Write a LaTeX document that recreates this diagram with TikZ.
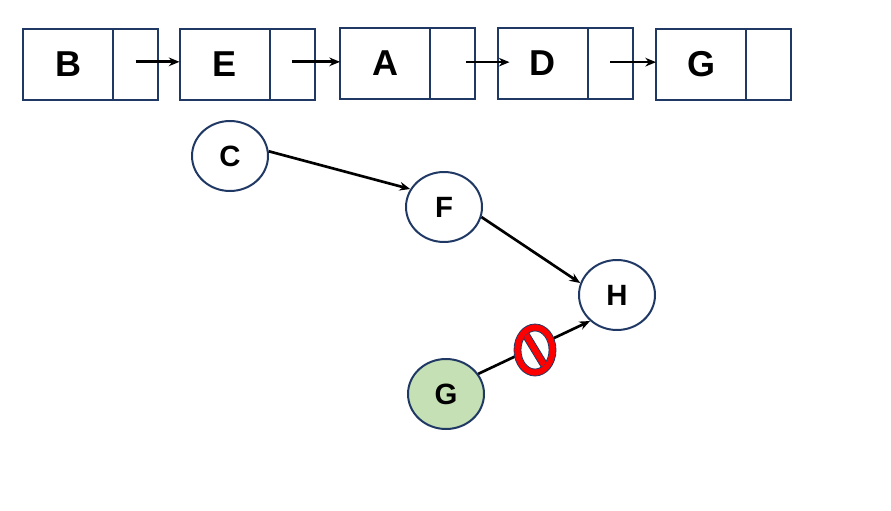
\documentclass[tikz,border=0pt]{standalone}
\usepackage{fontspec}
\setmainfont{Liberation Sans}
\usetikzlibrary{positioning,shapes.geometric,arrows.meta}
\definecolor{navy}{HTML}{203864}
\definecolor{leaf}{HTML}{C5E0B4}
\definecolor{stopred}{HTML}{FF0000}
\tikzset{
  cell/.style={draw=navy,line width=1.5pt,minimum width=67.5pt,minimum height=53.25pt,inner sep=0pt,outer sep=0pt,font=\fontsize{27}{30}\selectfont\bfseries},
  ptr/.style={draw=navy,line width=1.5pt,minimum width=33.75pt,minimum height=53.25pt,inner sep=0pt,outer sep=0pt},
  vert/.style={ellipse,draw=navy,line width=1.5pt,minimum width=57pt,minimum height=52.5pt,inner sep=0pt,font=\fontsize{22}{26}\selectfont\bfseries},
  link/.style={-{Stealth[length=8pt,width=6.5pt]},line width=2pt}
}
\begin{document}
\begin{tikzpicture}[x=0.75pt,y=-0.75pt]
\useasboundingbox (0,0) rectangle (891,510);
% list
\node[cell] (B) at (68,64.5) {B};
\node[ptr,right=0pt of B] (Bp) {};
\node[cell] (E) at (224.5,64.5) {E};
\node[ptr,right=0pt of E] (Ep) {};
\node[cell] (A) at (385,63.5) {A};
\node[ptr,right=0pt of A] (Ap) {};
\node[cell] (D) at (542.5,63.5) {D};
\node[ptr,right=0pt of D] (Dp) {};
\node[cell] (G) at (701,64.5) {G};
\node[ptr,right=0pt of G] (Gp) {};
\draw[link] ([yshift=2pt]Bp.center) -- ([yshift=2pt]Bp.center -| E.west);
\draw[link] ([yshift=2pt]Ep.center) -- ([yshift=2pt]Ep.center -| A.west);
\draw[link] ([xshift=10pt,yshift=1pt]Ap.center) -- ([xshift=9pt,yshift=1pt]Ap.center -| D.west);
\draw[link] ([yshift=1pt]Dp.center) -- ([yshift=1pt]Dp.center -| G.west);
% tree
\node[vert] (C) at (230,156) {C};
\node[vert] (F) at (444,207) {F};
\node[vert] (H) at (617,295) {H};
\node[vert,fill=leaf] (Gn) at (446,394) {G};
\draw[link] (C.7) -- (F.152);
\draw[link] (F.-15) -- (H.162);
\draw[link] (Gn.32) -- (H.224);
% no sign
\coordinate (ban) at (535,350);
\draw[navy,fill=stopred,line width=0.6pt] (ban) ellipse [x radius=21,y radius=26];
\draw[navy,fill=white,line width=0.6pt] (ban) ellipse [x radius=14,y radius=19];
\begin{scope}
\clip (ban) ellipse [x radius=14,y radius=19];
\draw[navy,fill=stopred,line width=0.6pt] (524,325) -- (552,371) -- (546,375) -- (518,329) -- cycle;
\end{scope}
\end{tikzpicture}
\end{document}
